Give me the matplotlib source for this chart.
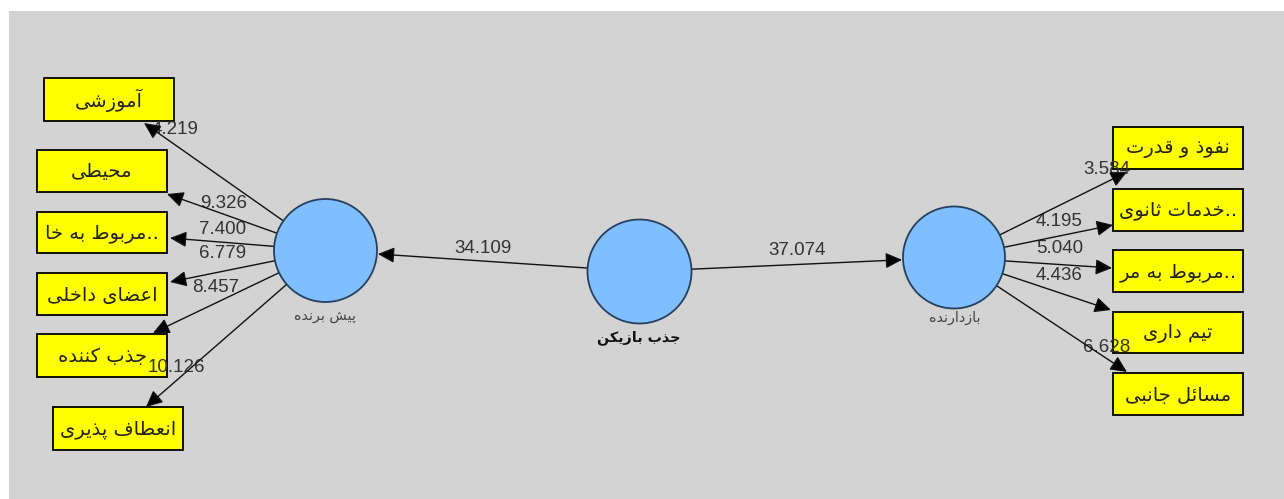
import matplotlib
matplotlib.use("Agg")
import matplotlib.pyplot as plt
from matplotlib.patches import Circle, Rectangle, FancyArrowPatch
import numpy as np

# ---------------- data ----------------
latent_labels = ["پیش برنده", "جذب بازیکن", "بازدارنده"]
path_values = [34.109, 37.074]          # center -> left, center -> right

left_labels = ["آموزشی", "محیطی", "..مربوط به خا", "اعضای داخلی", "جذب کننده", "انعطاف پذیری"]
left_values = [4.219, 9.326, 7.400, 6.779, 8.457, 10.126]

right_labels = ["نفوذ و قدرت", "..خدمات ثانوی", "..مربوط به مر", "تیم داری", "مسائل جانبی"]
right_values = [3.584, 4.195, 5.040, 4.436, 6.628]

# ---------------- layout (pixels) ----------------
W, H = 1284, 499
circle_xy = [(325.5, 250.5), (639.5, 271.5), (954.0, 257.5)]
circle_r = [51.5, 52.0, 51.0]
latent_label_xy = [(325, 316), (639, 338), (955, 318)]

left_boxes = [(44, 78, 130, 43), (37, 150, 130, 42), (37, 212, 130, 41),
              (37, 273, 130, 42), (37, 334, 130, 43), (53, 407, 130, 43)]
left_tips = [(144, 123), (167, 194), (170, 238), (170, 282), (153, 333), (146, 407)]
left_val_xy = [(175, 129), (224, 203), (223, 229), (223, 254), (216, 288), (176, 368)]

right_boxes = [(1113, 127, 130, 42), (1113, 189, 130, 42), (1113, 250, 130, 42),
               (1113, 312, 130, 41), (1113, 373, 130, 42)]
right_tips = [(1127, 172), (1113, 225), (1112, 268), (1111, 310), (1127, 372)]
right_val_xy = [(1107, 169), (1059, 222), (1060, 248), (1059, 276), (1107, 347)]

path_val_xy = [(483, 248), (797, 250)]

# ---------------- minimal Persian shaping ----------------
FORMS = {
    '\u0627': ('\uFE8D', '\uFE8E', None, None),
    '\u0622': ('\uFE81', '\uFE82', None, None),
    '\u0628': ('\uFE8F', '\uFE90', '\uFE91', '\uFE92'),
    '\u067E': ('\uFB56', '\uFB57', '\uFB58', '\uFB59'),
    '\u062A': ('\uFE95', '\uFE96', '\uFE97', '\uFE98'),
    '\u062B': ('\uFE99', '\uFE9A', '\uFE9B', '\uFE9C'),
    '\u062C': ('\uFE9D', '\uFE9E', '\uFE9F', '\uFEA0'),
    '\u0686': ('\uFB7A', '\uFB7B', '\uFB7C', '\uFB7D'),
    '\u062D': ('\uFEA1', '\uFEA2', '\uFEA3', '\uFEA4'),
    '\u062E': ('\uFEA5', '\uFEA6', '\uFEA7', '\uFEA8'),
    '\u062F': ('\uFEA9', '\uFEAA', None, None),
    '\u0630': ('\uFEAB', '\uFEAC', None, None),
    '\u0631': ('\uFEAD', '\uFEAE', None, None),
    '\u0632': ('\uFEAF', '\uFEB0', None, None),
    '\u0698': ('\uFB8A', '\uFB8B', None, None),
    '\u0633': ('\uFEB1', '\uFEB2', '\uFEB3', '\uFEB4'),
    '\u0634': ('\uFEB5', '\uFEB6', '\uFEB7', '\uFEB8'),
    '\u0635': ('\uFEB9', '\uFEBA', '\uFEBB', '\uFEBC'),
    '\u0636': ('\uFEBD', '\uFEBE', '\uFEBF', '\uFEC0'),
    '\u0637': ('\uFEC1', '\uFEC2', '\uFEC3', '\uFEC4'),
    '\u0638': ('\uFEC5', '\uFEC6', '\uFEC7', '\uFEC8'),
    '\u0639': ('\uFEC9', '\uFECA', '\uFECB', '\uFECC'),
    '\u063A': ('\uFECD', '\uFECE', '\uFECF', '\uFED0'),
    '\u0641': ('\uFED1', '\uFED2', '\uFED3', '\uFED4'),
    '\u0642': ('\uFED5', '\uFED6', '\uFED7', '\uFED8'),
    '\u06A9': ('\uFB8E', '\uFB8F', '\uFB90', '\uFB91'),
    '\u06AF': ('\uFB92', '\uFB93', '\uFB94', '\uFB95'),
    '\u0644': ('\uFEDD', '\uFEDE', '\uFEDF', '\uFEE0'),
    '\u0645': ('\uFEE1', '\uFEE2', '\uFEE3', '\uFEE4'),
    '\u0646': ('\uFEE5', '\uFEE6', '\uFEE7', '\uFEE8'),
    '\u0647': ('\uFEE9', '\uFEEA', '\uFEEB', '\uFEEC'),
    '\u0648': ('\uFEED', '\uFEEE', None, None),
    '\u06CC': ('\uFBFC', '\uFBFD', '\uFBFE', '\uFBFF'),
    '\u0626': ('\uFE89', '\uFE8A', '\uFE8B', '\uFE8C'),
}


def fa(text):
    chars = list(text)
    out = []
    for i, c in enumerate(chars):
        if c not in FORMS:
            out.append(c)
            continue
        iso, fin, ini, med = FORMS[c]
        prev = chars[i - 1] if i > 0 else None
        nxt = chars[i + 1] if i + 1 < len(chars) else None
        jp = prev in FORMS and FORMS[prev][2] is not None
        jn = ini is not None and nxt in FORMS
        if jp and jn:
            g = med
        elif jp:
            g = fin
        elif jn:
            g = ini
        else:
            g = iso
        out.append(g)
    return ''.join(reversed(out))


# ---------------- figure ----------------
fig = plt.figure(figsize=(W / 100, H / 100), dpi=100)
fig.patch.set_facecolor('white')
ax = fig.add_axes([0, 0, 1, 1])
ax.set_xlim(0, W)
ax.set_ylim(H, 0)
ax.axis('off')

ax.add_patch(Rectangle((9, 11), W - 9, H - 11, facecolor='#d3d3d3', edgecolor='none', zorder=0))

FA_FONT = ['DejaVu Sans']
NUM_FONT = ['Liberation Sans', 'DejaVu Sans']
BOX_COLOR = '#ffff00'
CIRCLE_FILL = '#80bfff'
CIRCLE_EDGE = '#27405e'
LINE_COLOR = '#333333'


def arrow(p0, p1):
    a = FancyArrowPatch(p0, p1, arrowstyle='-|>,head_length=0.8,head_width=0.38',
                        mutation_scale=12.5, color=LINE_COLOR, lw=1.0,
                        shrinkA=0, shrinkB=0, zorder=4)
    a.set_facecolor('black')
    a.set_edgecolor('#111111')
    ax.add_patch(a)


def boundary(center, r, target):
    c = np.array(center)
    t = np.array(target)
    u = (t - c) / np.linalg.norm(t - c)
    return tuple(c + r * u)


# circles
for (cx, cy), r in zip(circle_xy, circle_r):
    ax.add_patch(Circle((cx, cy), r, facecolor=CIRCLE_FILL, edgecolor=CIRCLE_EDGE, lw=1.3, zorder=5))

for i, (lab, (x, y)) in enumerate(zip(latent_labels, latent_label_xy)):
    ax.text(x, y, fa(lab), ha='center', va='center', fontsize=10.3,
            fontweight='bold' if i == 1 else 'normal',
            color='#111111' if i == 1 else '#444444', family=FA_FONT, zorder=6)

# indicator boxes
for labels, boxes in ((left_labels, left_boxes), (right_labels, right_boxes)):
    for lab, (x, y, w, h) in zip(labels, boxes):
        ax.add_patch(Rectangle((x, y), w, h, facecolor=BOX_COLOR, edgecolor='black', lw=1.3, zorder=2))
        ax.text(x + w / 2, y + h / 2 + 1, fa(lab), ha='center', va='center', fontsize=14,
                color='#222222', family=FA_FONT, zorder=3)

# outer arrows + values
for tips, vals, vxy, ci in ((left_tips, left_values, left_val_xy, 0),
                            (right_tips, right_values, right_val_xy, 2)):
    for tip, v, (tx, ty) in zip(tips, vals, vxy):
        start = boundary(circle_xy[ci], circle_r[ci], tip)
        arrow(start, tip)
        ax.text(tx, ty, f"{v:.3f}", ha='center', va='center', fontsize=13.5,
                color='#333333', family=NUM_FONT, zorder=3)

# structural paths
for target, v, (tx, ty) in zip((0, 2), path_values, path_val_xy):
    start = boundary(circle_xy[1], circle_r[1], circle_xy[target])
    end = boundary(circle_xy[target], circle_r[target] + 1, circle_xy[1])
    arrow(start, end)
    ax.text(tx, ty, f"{v:.3f}", ha='center', va='center', fontsize=13.5,
            color='#333333', family=NUM_FONT, zorder=3)

fig.savefig('out.png', dpi=100, facecolor='white')
